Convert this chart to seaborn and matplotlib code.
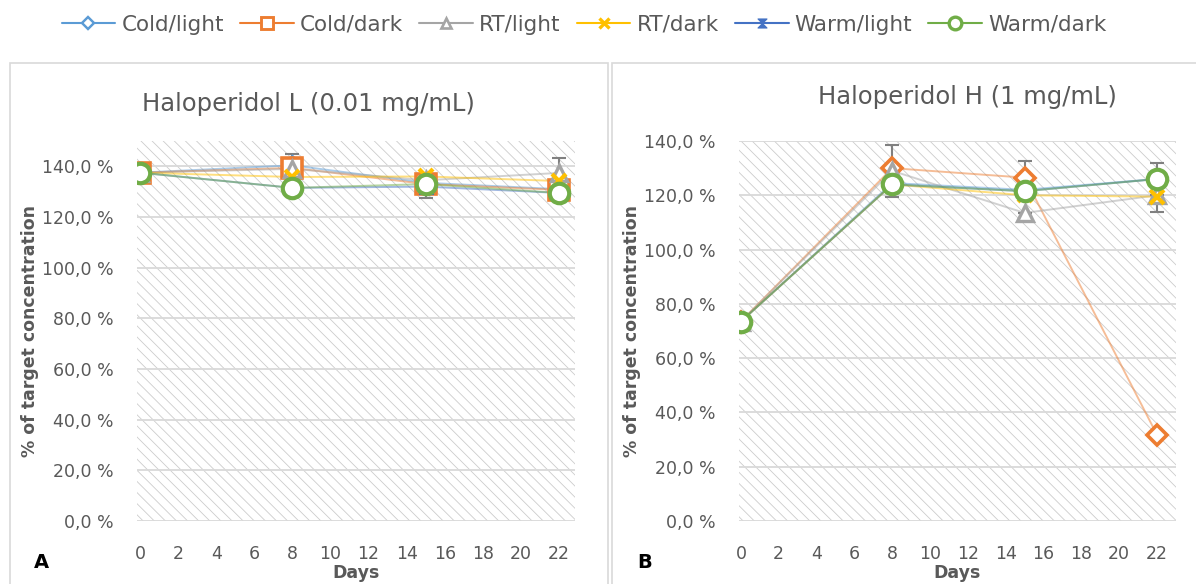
import numpy as np
import pandas as pd
import matplotlib
matplotlib.use("Agg")
import matplotlib.pyplot as plt
from matplotlib.lines import Line2D
from matplotlib.patches import Rectangle
from matplotlib.path import Path
from matplotlib.ticker import FuncFormatter
import seaborn as sns

# ---------------- data ----------------
days = [0, 8, 15, 22]
series = ["Cold/light", "Cold/dark", "RT/light", "RT/dark", "Warm/light", "Warm/dark"]

low_cold_light = [137.5, 140.4, 133.5, 131.0]
low_cold_dark = [137.5, 139.4, 133.0, 130.7]
low_rt_light = [137.5, 139.0, 134.5, 137.4]
low_rt_dark = [137.5, 135.8, 136.0, 134.2]
low_warm_light = [137.5, 131.5, 132.0, 129.5]
low_warm_dark = [137.5, 131.5, 133.0, 129.5]
low_rt_light_err = [0.0, 6.0, 0.0, 6.0]
low_warm_light_err = [0.0, 0.0, 4.5, 0.0]

high_cold_light = [73.5, 124.5, 122.0, 126.0]
high_cold_dark = [73.5, 130.0, 126.5, 31.7]
high_rt_light = [73.5, 129.0, 113.5, 120.0]
high_rt_dark = [73.5, 124.0, 120.0, 119.5]
high_warm_light = [73.5, 124.0, 121.5, 126.0]
high_warm_dark = [73.5, 124.0, 121.5, 126.0]
high_rt_light_err = [0.0, 9.5, 0.0, 0.0]
high_cold_dark_err = [0.0, 0.0, 6.0, 0.0]
high_warm_dark_err = [0.0, 0.0, 0.0, 6.0]
high_rt_dark_err = [0.0, 0.0, 0.0, 5.5]

titles = ["Haloperidol L (0.01 mg/mL)", "Haloperidol H (1 mg/mL)"]
panel_letters = ["A", "B"]

# ---------------- style ----------------
sns.set_theme(style="white")
plt.rcParams["font.family"] = ["DejaVu Sans"]
plt.rcParams["hatch.linewidth"] = 0.6

TXT = "#595959"
colors = {"Cold/light": "#5B9BD5", "Cold/dark": "#ED7D31", "RT/light": "#A5A5A5",
          "RT/dark": "#FFC000", "Warm/light": "#4472C4", "Warm/dark": "#70AD47"}

bowtie = Path([(-1, 1), (1, 1), (0, 0), (1, -1), (-1, -1), (0, 0), (-1, 1)],
              [Path.MOVETO, Path.LINETO, Path.LINETO, Path.LINETO, Path.LINETO,
               Path.LINETO, Path.CLOSEPOLY])

mk = {
    "Cold/light": dict(marker="D", markersize=9, markerfacecolor="white", markeredgewidth=2.2),
    "Cold/dark": dict(marker="s", markersize=14, markerfacecolor="white", markeredgewidth=2.6),
    "RT/light": dict(marker="^", markersize=12, markerfacecolor="white", markeredgewidth=2.4),
    "RT/dark": dict(marker="x", markersize=10, markeredgewidth=3.0),
    "Warm/light": dict(marker=bowtie, markersize=10, markeredgewidth=1),
    "Warm/dark": dict(marker="o", markersize=14, markerfacecolor="white", markeredgewidth=3.0),
}

low = {"Cold/light": low_cold_light, "Cold/dark": low_cold_dark, "RT/light": low_rt_light,
       "RT/dark": low_rt_dark, "Warm/light": low_warm_light, "Warm/dark": low_warm_dark}
high = {"Cold/light": high_cold_light, "Cold/dark": high_cold_dark, "RT/light": high_rt_light,
        "RT/dark": high_rt_dark, "Warm/light": high_warm_light, "Warm/dark": high_warm_dark}
low_err = {"RT/light": low_rt_light_err, "Warm/light": low_warm_light_err}
high_err = {"RT/light": high_rt_light_err, "Cold/dark": high_cold_dark_err,
            "Warm/dark": high_warm_dark_err, "RT/dark": high_rt_dark_err}

W, H = 1196, 584
fig = plt.figure(figsize=(W / 100, H / 100), dpi=100)

# panel frames
for (x0, x1) in [(10, 608), (612, 1200)]:
    fig.patches.append(Rectangle((x0 / W, -0.1), (x1 - x0) / W, (H - 63) / H + 0.1,
                                 transform=fig.transFigure, fill=False,
                                 edgecolor="#d9d9d9", linewidth=1.2, zorder=0))

axes_geom = [
    dict(rect=[137 / W, 63 / H, 438 / W, 380 / H], xlim=(-0.16, 22.84), ylim=(0, 150)),
    dict(rect=[739 / W, 63 / H, 437 / W, 380 / H], xlim=(-0.1, 23.0), ylim=(0, 140)),
]
datasets = [low, high]
errsets = [low_err, high_err]

fmt = FuncFormatter(lambda v, p: f"{v:.1f} %".replace(".", ","))

for i, g in enumerate(axes_geom):
    ax = fig.add_axes(g["rect"])
    ax.set_xlim(*g["xlim"])
    ax.set_ylim(*g["ylim"])
    ax.add_patch(Rectangle((0, 0), 1, 1, transform=ax.transAxes, facecolor="white",
                           edgecolor="#cccccc", linewidth=0, hatch="\\\\\\", zorder=0))
    for s in ax.spines.values():
        s.set_visible(False)
    for yv in range(0, 141, 20):
        ax.axhline(yv, color="#d9d9d9", lw=1.3, zorder=1)
    data = datasets[i]
    df = pd.DataFrame([(d, v, s) for s in series for d, v in zip(days, data[s])],
                      columns=["Days", "Value", "Series"])
    # lines
    sns.lineplot(data=df, x="Days", y="Value", hue="Series", palette=colors,
                 hue_order=series, ax=ax, legend=False, linewidth=1.4, alpha=0.5,
                 zorder=2, sort=False)
    # error bars
    for s, e in errsets[i].items():
        ax.errorbar(days, data[s], yerr=e, fmt="none", ecolor="#808080",
                    elinewidth=1.5, capsize=5, capthick=1.5, zorder=3)
    # markers
    for s in series:
        kw = dict(mk[s])
        if i == 1 and s == "Cold/dark":
            kw.update(marker="D", markersize=10, markeredgewidth=2.6)
        ax.plot(days, data[s], linestyle="none", color=colors[s],
                markeredgecolor=colors[s], zorder=4, **kw)
    ax.set_xticks(range(0, 23, 2))
    ax.set_yticks(range(0, 141, 20))
    ax.yaxis.set_major_formatter(fmt)
    ax.tick_params(axis="both", length=0, labelsize=12.5, labelcolor=TXT)
    ax.tick_params(axis="x", pad=17)
    ax.tick_params(axis="y", pad=17)
    ax.set_xlabel("")
    ax.set_ylabel("")
    ax.grid(False)

# titles
fig.text(308 / W, 1 - 104 / H, titles[0], ha="center", va="center", fontsize=17.5, color=TXT)
fig.text(967 / W, 1 - 97 / H, titles[1], ha="center", va="center", fontsize=17.5, color=TXT)
# y labels
for xc in (30, 632):
    fig.text(xc / W, 1 - 331 / H, "% of target concentration", rotation=90, ha="center",
             va="center", fontsize=12.5, fontweight="bold", color=TXT)
# x labels
for xc in (356, 957):
    fig.text(xc / W, 1 - 573 / H, "Days", ha="center", va="center", fontsize=12.5,
             fontweight="bold", color=TXT)
# panel letters
fig.text(41 / W, 1 - 562 / H, panel_letters[0], ha="center", va="center", fontsize=14,
         fontweight="bold", color="black")
fig.text(645 / W, 1 - 562 / H, panel_letters[1], ha="center", va="center", fontsize=14,
         fontweight="bold", color="black")

# legend
handles = []
for s in series:
    kw = dict(mk[s])
    kw["markersize"] = kw["markersize"] * 0.65
    kw["markeredgewidth"] = kw["markeredgewidth"] * 0.8
    handles.append(Line2D([0], [0], color=colors[s], lw=1.5, alpha=1.0,
                          markeredgecolor=colors[s], **kw))
fig.legend(handles, series, loc="center", bbox_to_anchor=(584 / W, 1 - 25 / H), ncol=6,
           frameon=False, fontsize=15.5, handlelength=2.5, handletextpad=0.28,
           columnspacing=0.75, labelcolor=TXT)

fig.savefig("out.png", dpi=100)
